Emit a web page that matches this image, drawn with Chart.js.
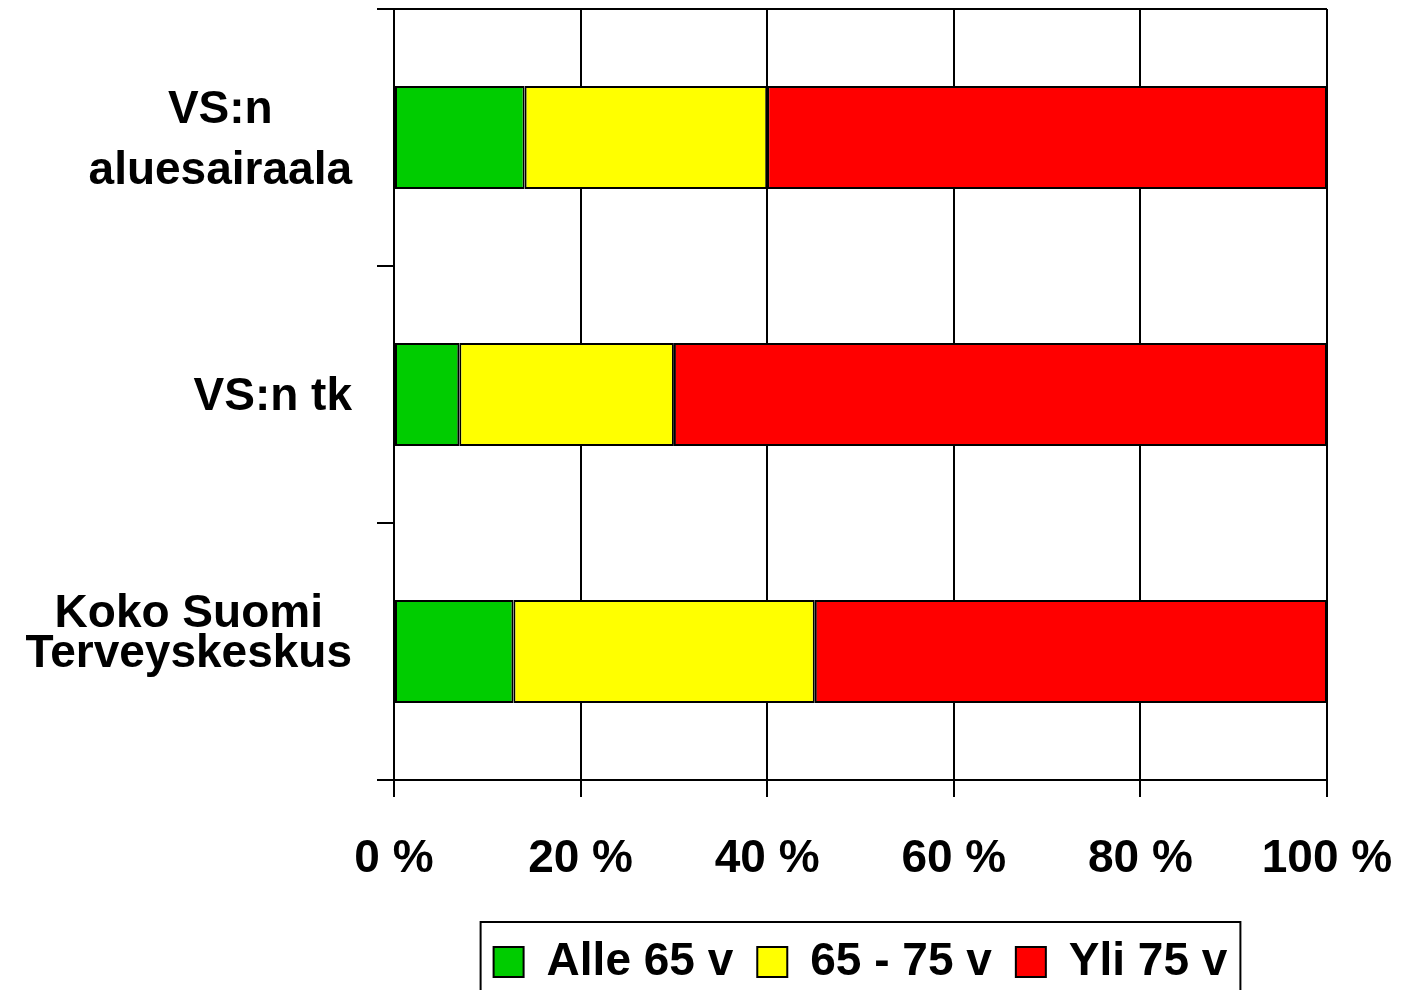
<!DOCTYPE html>
<html>
<head>
<meta charset="utf-8">
<script src="https://cdn.jsdelivr.net/npm/chart.js@4.4.0/dist/chart.umd.min.js"></script>
<style>
html, body { margin: 0; padding: 0; background: #fff; }
#wrap { width: 1405px; height: 990px; }
</style>
</head>
<body>
<div id="wrap"><canvas id="ageChart"></canvas></div>
<script>
// Age distribution of patients, shares in percent
const categories = [['VS:n', 'aluesairaala'], ['VS:n tk'], ['Koko Suomi', 'Terveyskeskus', '']];
const seriesNames = ['Alle 65 v', '65 - 75 v', 'Yli 75 v'];
const under65 = [14, 7, 12.8];
const from65to75 = [26, 23, 32.3];
const over75 = [60, 70, 54.9];
const xTicks = [0, 20, 40, 60, 80, 100];

const colors = ['#00CC00', '#FFFF00', '#FF0000'];
const labelLineHeights = [61, 46, 40];

Chart.defaults.font.family = "'Liberation Sans', Arial, sans-serif";
Chart.defaults.color = '#000';

// category labels: lines centred on each other, block right-aligned to the axis
const catLabels = {
    id: 'catLabels',
    afterDraw(chart) {
        const ys = chart.scales.y;
        const ctx = chart.ctx;
        const right = ys.right - 17 - 25;
        ctx.save();
        ctx.font = "bold 46px 'Liberation Sans', Arial, sans-serif";
        ctx.fillStyle = '#000';
        ctx.textAlign = 'center';
        ctx.textBaseline = 'middle';
        categories.forEach((lines, i) => {
            const lh = labelLineHeights[i];
            const w = Math.max(...lines.map(l => ctx.measureText(l).width));
            const cx = right - w / 2;
            const cy = ys.getPixelForValue(i) + 3;
            lines.forEach((l, j) => ctx.fillText(l, cx, cy + (j - (lines.length - 1) / 2) * lh));
        });
        ctx.restore();
    }
};

// frame round the legend
const legendFrame = {
    id: 'legendFrame',
    afterDraw(chart) {
        const boxes = chart.legend.legendHitBoxes;
        if (!boxes || !boxes.length) return;
        const ctx = chart.ctx;
        const left = Math.min(...boxes.map(b => b.left)) - 13;
        const right = Math.max(...boxes.map(b => b.left + b.width)) + 13;
        const top = boxes[0].top + boxes[0].height / 2 - 40;
        ctx.save();
        ctx.strokeStyle = '#000';
        ctx.lineWidth = 2;
        ctx.strokeRect(left, top, right - left, chart.height + 20 - top);
        ctx.restore();
    }
};

const ctx = document.getElementById('ageChart').getContext('2d');
const ageChart = new Chart(ctx, {
    type: 'bar',
    data: {
        labels: categories,
        datasets: [under65, from65to75, over75].map((values, i) => ({
            label: seriesNames[i],
            data: values,
            backgroundColor: colors[i],
            borderColor: '#000',
            borderWidth: 2,
            borderSkipped: false,
            barPercentage: 0.8,
            categoryPercentage: 0.5,
        })),
    },
    options: {
        indexAxis: 'y',
        responsive: true,
        maintainAspectRatio: false,
        animation: false,
        layout: { padding: { top: 9, right: 78, left: 0, bottom: -5 } },
        scales: {
            x: {
                stacked: true,
                min: 0,
                max: 100,
                afterBuildTicks: (scale) => { scale.ticks = xTicks.map(v => ({ value: v })); },
                afterFit: (scale) => {
                    scale.height = 135;
                    scale.paddingLeft = 0;
                    scale.paddingRight = 0;
                },
                grid: { color: '#000', lineWidth: 2, tickLength: 17, tickColor: '#000' },
                border: { display: true, color: '#000', width: 2 },
                ticks: {
                    padding: 35,
                    maxRotation: 0,
                    color: '#000',
                    font: { size: 46, weight: 'bold' },
                    callback: (v) => v + ' %',
                },
            },
            y: {
                stacked: true,
                offset: true,
                afterFit: (scale) => { scale.width = 394; },
                grid: {
                    offset: true,
                    color: (c) => c.index === 0 ? '#000' : 'rgba(0,0,0,0)',
                    tickColor: '#000',
                    lineWidth: 2,
                    tickLength: 17,
                },
                border: { display: true, color: '#000', width: 2 },
                ticks: { display: false },
            },
        },
        plugins: {
            tooltip: { enabled: false },
            legend: {
                position: 'bottom',
                fullSize: false,
                labels: {
                    boxWidth: 30,
                    boxHeight: 30,
                    padding: 24,
                    color: '#000',
                    font: { size: 46, weight: 'bold' },
                },
            },
        },
    },
    plugins: [catLabels, legendFrame],
});
</script>
</body>
</html>
